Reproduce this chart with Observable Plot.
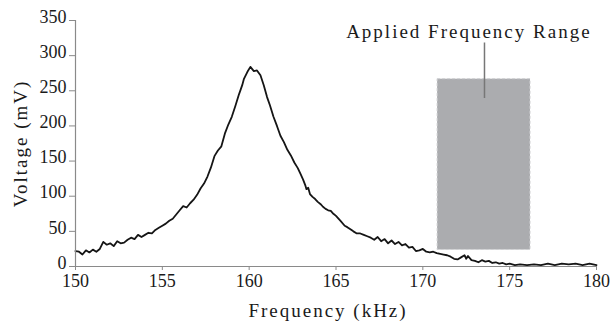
<!DOCTYPE html>
<html>
<head>
<meta charset="utf-8">
<script src="https://cdn.jsdelivr.net/npm/d3@7"></script>
<script src="https://cdn.jsdelivr.net/npm/@observablehq/plot@0.6"></script>
<style>
  html, body { margin: 0; padding: 0; background: #fff; }
  #chart { width: 610px; height: 323px; }
</style>
</head>
<body>
<div id="chart"></div>
<script>
const freq = [150.0,150.2,150.4,150.6,150.8,151.0,151.2,151.4,151.6,151.8,152.0,152.2,152.4,152.6,152.8,153.0,153.2,153.4,153.6,153.8,154.0,154.2,154.4,154.6,154.8,155.0,155.2,155.4,155.6,155.8,156.0,156.2,156.4,156.6,156.8,157.0,157.2,157.4,157.6,157.8,158.0,158.2,158.4,158.6,158.8,159.0,159.2,159.4,159.5,159.6,159.7,159.9,160.07,160.27,160.45,160.65,160.84,161.03,161.2,161.4,161.6,161.8,162.0,162.2,162.4,162.6,162.8,162.95,163.1,163.24,163.3,163.4,163.5,163.65,163.8,163.95,164.1,164.25,164.4,164.55,164.7,164.85,165.0,165.26,165.5,165.65,165.83,166.0,166.2,166.4,166.6,166.8,167.0,167.2,167.4,167.6,167.8,168.0,168.2,168.4,168.6,168.8,169.0,169.2,169.4,169.6,169.8,170.0,170.2,170.4,170.6,170.8,171.0,171.2,171.4,171.6,171.8,172.0,172.2,172.4,172.5,172.6,172.8,173.0,173.2,173.4,173.6,173.8,174.0,174.2,174.4,174.6,174.8,175.0,175.3,175.6,176.0,176.4,176.8,177.2,177.6,178.0,178.4,178.8,179.2,179.6,180.0];
const voltage = [22,21,17,23,20,24,21,25,35,31,33,29,36,33,34,38,41,39,45,42,45,48,47,52,55,58,61,65,68,74,80,86,84,90,95,102,111,118,128,141,157,165,171,189,202,213,228,244,251,258,267,277,284,278,279,272,258,241,229,213,200,186,177,166,158,148,140,132,124,115,110,112,103,99,96,92,89,85,82,80,79,75,72,65,58,56,53,50,47,47,45,43,41,38,42,36,39,33,37,32,35,30,32,27,28,22,23,25,21,20,21,19,18,17,16,14,11,10,13,16,11,15,9,8,6,9,7,8,5,6,4,5,3,4,2,3,2,3,2,4,2,4,3,4,2,4,2];

// Applied frequency range band
const bandFreq = [170.85, 176.2];
const bandVolt = [23.5, 266.5];

// Annotation
const annotText = ["Applied Frequency Range"];
const annotX = [172.65];
const annotY = [325];
const leaderX = [173.55];
const leaderY = [318, 239];

// Axis ticks
const xTicks = [150, 155, 160, 165, 170, 175, 180];
const yTicks = [0, 50, 100, 150, 200, 250, 300, 350];

const series = freq.map((f, i) => ({f, v: voltage[i]}));

const font = "'Liberation Serif', 'Times New Roman', serif";

const chart = Plot.plot({
  width: 610,
  height: 323,
  marginLeft: 75,
  marginRight: 14,
  marginTop: 20,
  marginBottom: 57,
  style: {fontFamily: font, fontSize: "19px", color: "#1a1a1a", background: "#fff"},
  x: {domain: [150, 180], ticks: xTicks, label: null},
  y: {domain: [0, 350], ticks: yTicks, label: null},
  marks: [
    Plot.rect([{}], {x1: bandFreq[0], x2: bandFreq[1], y1: bandVolt[0], y2: bandVolt[1],
      fill: "#abacaf", stroke: "#cfd0d2", strokeWidth: 1, strokeDasharray: "3,2"}),
    Plot.ruleX(leaderX, {y1: leaderY[0], y2: leaderY[1], stroke: "#777", strokeWidth: 1.5}),
    Plot.line(series, {x: "f", y: "v", stroke: "#151515", strokeWidth: 1.8, strokeLinejoin: "round"}),
    Plot.ruleY([0], {stroke: "#8a8a8a", strokeWidth: 1.2}),
    Plot.ruleX([150], {stroke: "#8a8a8a", strokeWidth: 1.2}),
    Plot.axisX({ticks: xTicks, tickSize: 4, tickPadding: 3.5, stroke: "#8a8a8a", label: null, fill: "#1a1a1a", fontSize: 18}),
    Plot.axisY({ticks: yTicks, tickSize: 6, text: null, stroke: "#8a8a8a", label: null}),
    Plot.axisY({ticks: yTicks, tickSize: 0, tickPadding: 7, dx: -2, dy: -3.5, label: null, fill: "#1a1a1a", fontSize: 18}),
    Plot.text(annotText, {x: annotX, y: annotY, text: d => d, textAnchor: "middle", lineAnchor: "bottom", fill: "#1a1a1a", fontSize: 19}),
    Plot.text(["Frequency (kHz)"], {frameAnchor: "bottom", dy: 50, dx: -8, text: d => d, textAnchor: "middle", lineAnchor: "bottom", fill: "#1a1a1a", fontSize: 19}),
    Plot.text(["Voltage (mV)"], {frameAnchor: "left", dx: -55, rotate: -90, text: d => d, textAnchor: "middle", fill: "#1a1a1a", fontSize: 19})
  ]
});

d3.select(chart).selectAll("text")
  .filter(function() { const t = this.textContent; return t === "Frequency (kHz)" || t === "Voltage (mV)" || t === "Applied Frequency Range"; })
  .style("letter-spacing", "2px");

document.getElementById("chart").appendChild(chart);
</script>
</body>
</html>
